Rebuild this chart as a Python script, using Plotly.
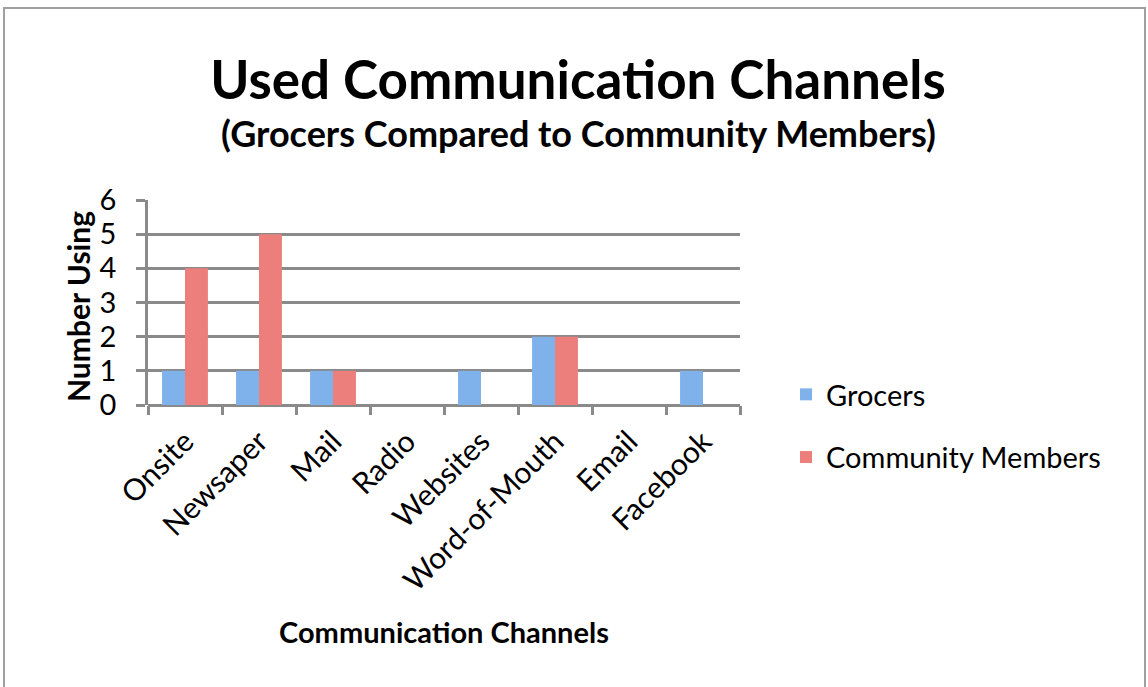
import plotly.graph_objects as go

categories = ["Onsite", "Newsaper", "Mail", "Radio", "Websites", "Word-of-Mouth", "Email", "Facebook"]
grocers = [1, 1, 1, 0, 1, 2, 0, 1]
community = [4, 5, 1, 0, 0, 2, 0, 0]
y_ticks = [0, 1, 2, 3, 4, 5, 6]

FONT = "Lato"
GRID = "#8a8a8a"

fig = go.Figure()
fig.add_trace(go.Bar(name="Grocers", x=categories, y=grocers,
                     marker=dict(color="#7fb1ea", line=dict(width=0)),
                     legendgroup="g"))
fig.add_trace(go.Bar(name="Community Members", x=categories, y=community,
                     marker=dict(color="#ec7f7b", line=dict(width=0)),
                     legendgroup="c"))

L, R, T, B = 148, 740, 200, 405
W, H = 1148, 687

fig.update_layout(
    width=W, height=H,
    margin=dict(l=L, r=W - R, t=T, b=H - B),
    paper_bgcolor="white", plot_bgcolor="white",
    font=dict(family=FONT, color="black"),
    barmode="group", bargap=0.38, bargroupgap=0,
    title=dict(text="<b>Used Communication Channels</b>", x=578 / W, xanchor="center",
               y=1 - 80 / H, yanchor="middle", font=dict(size=53, family=FONT)),
    showlegend=True,
    legend=dict(x=(786 - L) / (R - L), xanchor="left", y=(B - 369) / (B - T), yanchor="top",
                font=dict(size=29, family=FONT), tracegroupgap=22,
                traceorder="grouped", bgcolor="rgba(0,0,0,0)"),
    xaxis=dict(type="category", showline=False, ticks="outside", tickson="boundaries",
               ticklen=9, tickwidth=2.5, tickcolor=GRID, tickangle=-45, ticklabelstandoff=12,
               tickfont=dict(size=30, family=FONT), showgrid=False,
               title=dict(text="<b>Communication Channels</b>", font=dict(size=29, family=FONT),
                          standoff=26),
               automargin=False),
    yaxis=dict(range=[0, 6], tickvals=y_ticks, showgrid=True, gridcolor=GRID, gridwidth=2.5,
               showline=True, linecolor=GRID, linewidth=2.5, ticks="outside", ticklen=9,
               tickwidth=2.5, tickcolor=GRID, tickfont=dict(size=29, family=FONT),
               ticklabelstandoff=14,
               zeroline=True, zerolinecolor=GRID, zerolinewidth=2.5,
               automargin=False),
    annotations=[
        dict(text="<b>(Grocers Compared to Community Members)</b>", xref="paper", yref="paper",
             x=(578 - L) / (R - L), y=(B - 133) / (B - T), xanchor="center", yanchor="middle",
             showarrow=False, font=dict(size=36, family=FONT)),
        dict(text="<b>Number Using</b>", xref="paper", yref="paper",
             x=(78 - L) / (R - L), y=(B - 307) / (B - T), xanchor="center", yanchor="middle",
             textangle=-90, showarrow=False, font=dict(size=30, family=FONT)),
    ],
    shapes=[dict(type="rect", xref="paper", yref="paper",
                 x0=(4 - L) / (R - L), x1=(1145 - L) / (R - L),
                 y0=(B - 720) / (B - T), y1=(B - 8) / (B - T),
                 line=dict(color="#a0a0a0", width=2), fillcolor="rgba(0,0,0,0)", layer="below")],
)

fig.write_html("out.html")
